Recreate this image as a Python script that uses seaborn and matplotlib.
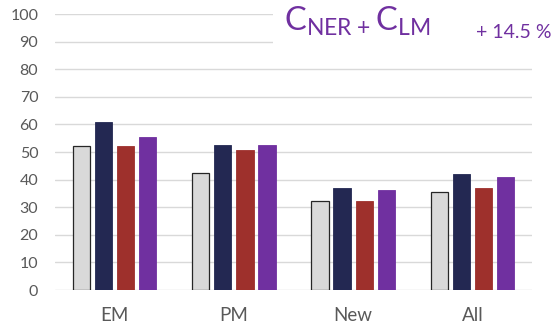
import pandas as pd
import matplotlib.pyplot as plt
import seaborn as sns
from matplotlib.patches import Rectangle

# dados
categorias = ["EM", "PM", "New", "All"]
series = ["Base", "C_NER", "C_LM", "C_NER + C_LM"]
base = [52.0, 42.3, 32.1, 35.5]
c_ner = [60.7, 52.4, 37.1, 41.9]
c_lm = [52.1, 50.6, 32.2, 37.1]
c_ner_lm = [55.5, 52.4, 36.2, 40.9]

cores = ["#d9d9d9", "#232852", "#9e302c", "#7030a0"]

df = pd.DataFrame({
    "categoria": categorias * 4,
    "serie": [s for s in series for _ in categorias],
    "valor": base + c_ner + c_lm + c_ner_lm,
})

sns.set_style("white")
plt.rcParams["font.family"] = ["Lato", "DejaVu Sans"]
plt.rcParams["mathtext.fontset"] = "custom"
plt.rcParams["mathtext.rm"] = "Lato"
plt.rcParams["mathtext.it"] = "Lato"

fig = plt.figure(figsize=(5.54, 3.26), dpi=100)
ax = fig.add_axes([55 / 554, 36 / 326, 477 / 554, 276 / 326])

sns.barplot(data=df, x="categoria", y="valor", hue="serie", order=categorias,
            hue_order=series, palette=cores, width=0.74, gap=0.22,
            saturation=1, legend=False, ax=ax, zorder=3)

# bordas
for cont, cor in zip(ax.containers, cores):
    for barra in cont:
        if cor == "#d9d9d9":
            barra.set_edgecolor("#262626")
            barra.set_linewidth(0.9)
        else:
            barra.set_edgecolor(cor)
            barra.set_linewidth(0.6)

ax.set_ylim(0, 100)
ax.set_yticks(range(0, 101, 10))
ax.grid(axis="y", color="#d9d9d9", linewidth=1.0, zorder=0)
ax.set_axisbelow(True)
for lado in ["top", "right", "left", "bottom"]:
    ax.spines[lado].set_visible(False)
ax.tick_params(axis="both", length=0, colors="#595959")
ax.tick_params(axis="y", labelsize=11.5, pad=12)
ax.tick_params(axis="x", labelsize=13.5, pad=12)
ax.set_xlabel("")
ax.set_ylabel("")

# caixa do texto sobre as linhas de grade
fig.patches.append(Rectangle((273 / 554, 1 - 56 / 326), 1, 56 / 326,
                             transform=fig.transFigure, facecolor="white",
                             edgecolor="none", zorder=5))
fig.text(284 / 554, 1 - 31 / 326, r"$\mathregular{C_{NER\;{+}\;}C_{LM}}$",
         fontsize=23.5, color="#7030a0", ha="left", va="baseline", zorder=6)
fig.text(552 / 554, 1 - 38 / 326, "+ 14.5 %", fontsize=14,
         color="#7030a0", ha="right", va="baseline", zorder=6)

plt.savefig("out.png", dpi=100)
